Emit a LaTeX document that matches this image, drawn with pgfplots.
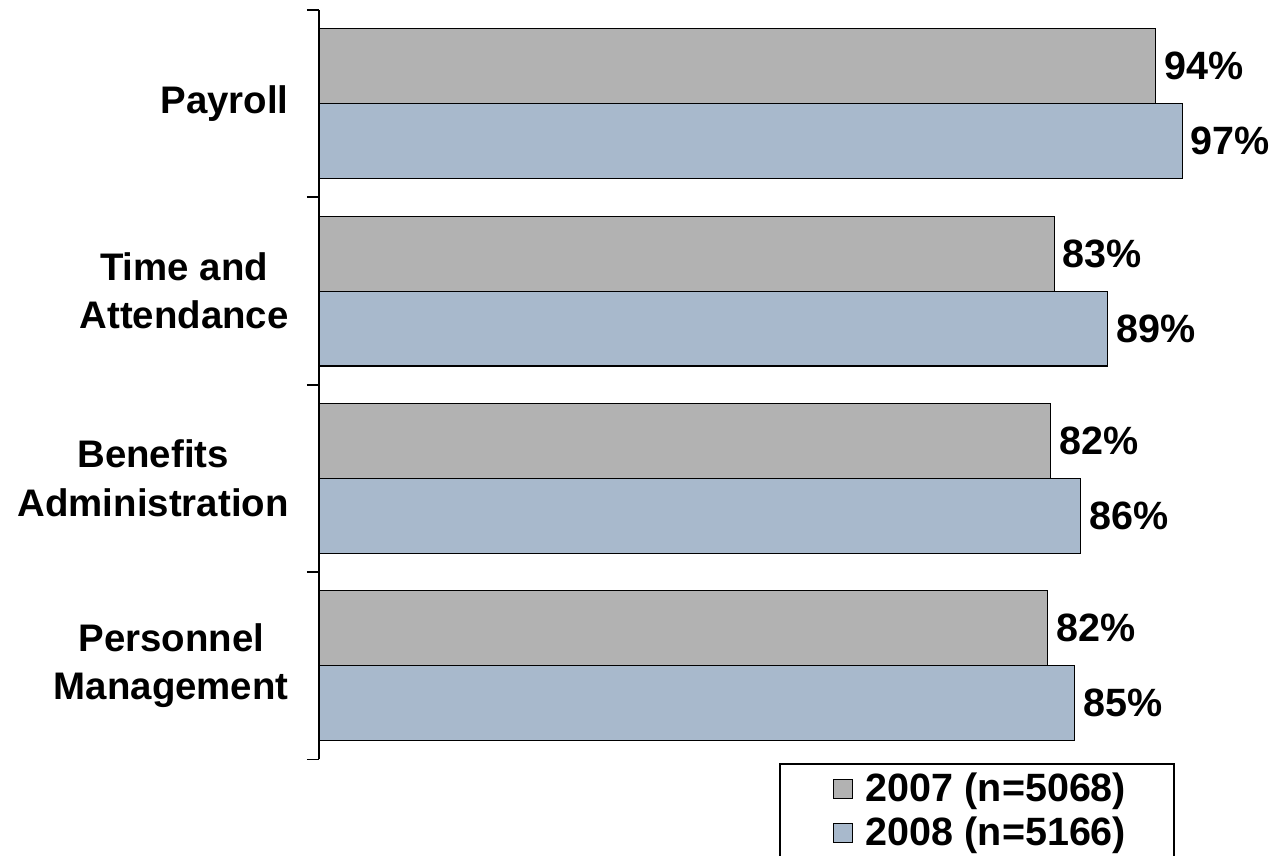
\documentclass[border=0pt]{standalone}
\usepackage{pgfplots}
\pgfplotsset{compat=1.18}
\usepackage{fontspec}
\setmainfont{Liberation Sans}
\definecolor{bargray}{RGB}{178,178,178}
\definecolor{barblue}{RGB}{168,185,204}
\newcommand{\lblfont}{\fontsize{19.2}{24.2}\selectfont\bfseries}
\newcommand{\legfont}{\fontsize{19.75}{24.2}\selectfont\bfseries}
\newcommand{\valfont}{\fontsize{19.75}{24}\selectfont\bfseries}
\begin{document}
\begin{tikzpicture}
\useasboundingbox (0,0) rectangle (637pt,428pt);
\begin{axis}[
  at={(159.5pt,48.25pt)}, anchor=south west,
  scale only axis,
  width=445pt, height=374.75pt,
  xbar, bar width=0.4,
  xmin=0, xmax=100, ymin=-0.5, ymax=3.5,
  clip=false,
  axis x line=none,
  axis y line*=left,
  y axis line style={line width=0.9pt, black},
  ytick={0,1,2,3},
  yticklabels={{Personnel\\Management},{Benefits\\Administration},{Time and\\Attendance},{Payroll}},
  major tick length=0pt,
  yticklabel style={align=center, font=\lblfont, inner sep=0pt, xshift=-15pt},
  extra y ticks={-0.5,0.5,1.5,2.5,3.5},
  extra y tick labels={},
  extra y tick style={major tick length=6pt, tick align=outside, tick style={line width=0.9pt, black}},
  /pgf/number format/assume math mode=true,
  point meta=x,
  nodes near coords={\pgfmathprintnumber[fixed,precision=0]{\pgfplotspointmeta}\%},
  nodes near coords style={anchor=west, inner sep=0pt, xshift=4pt, font=\valfont, black},
  legend style={at={(0.5169,-0.0047)}, anchor=north west, draw=black, line width=0.8pt,
    inner xsep=24pt, inner ysep=4.6pt, row sep=0.3pt, font=\legfont,
    nodes={inner sep=0pt}},
  legend cell align=left,
  legend image code/.code={
    \path (-2.5pt,0pt);
    \draw[#1, line width=0.6pt, draw=black] (0pt,-4.75pt) rectangle (9.5pt,4.75pt);
    \path (16pt,-13.5pt);
  },
]
\addplot[fill=bargray, draw=black, line width=0.55pt, bar shift=0.2] coordinates {
  (81.9,0) (82.2,1) (82.6,2) (94.0,3)
};
\addplot[fill=barblue, draw=black, line width=0.55pt, bar shift=-0.2] coordinates {
  (84.9,0) (85.6,1) (88.6,2) (97.0,3)
};
\legend{2007 (n=5068), 2008 (n=5166)}
\end{axis}
\end{tikzpicture}
\end{document}
